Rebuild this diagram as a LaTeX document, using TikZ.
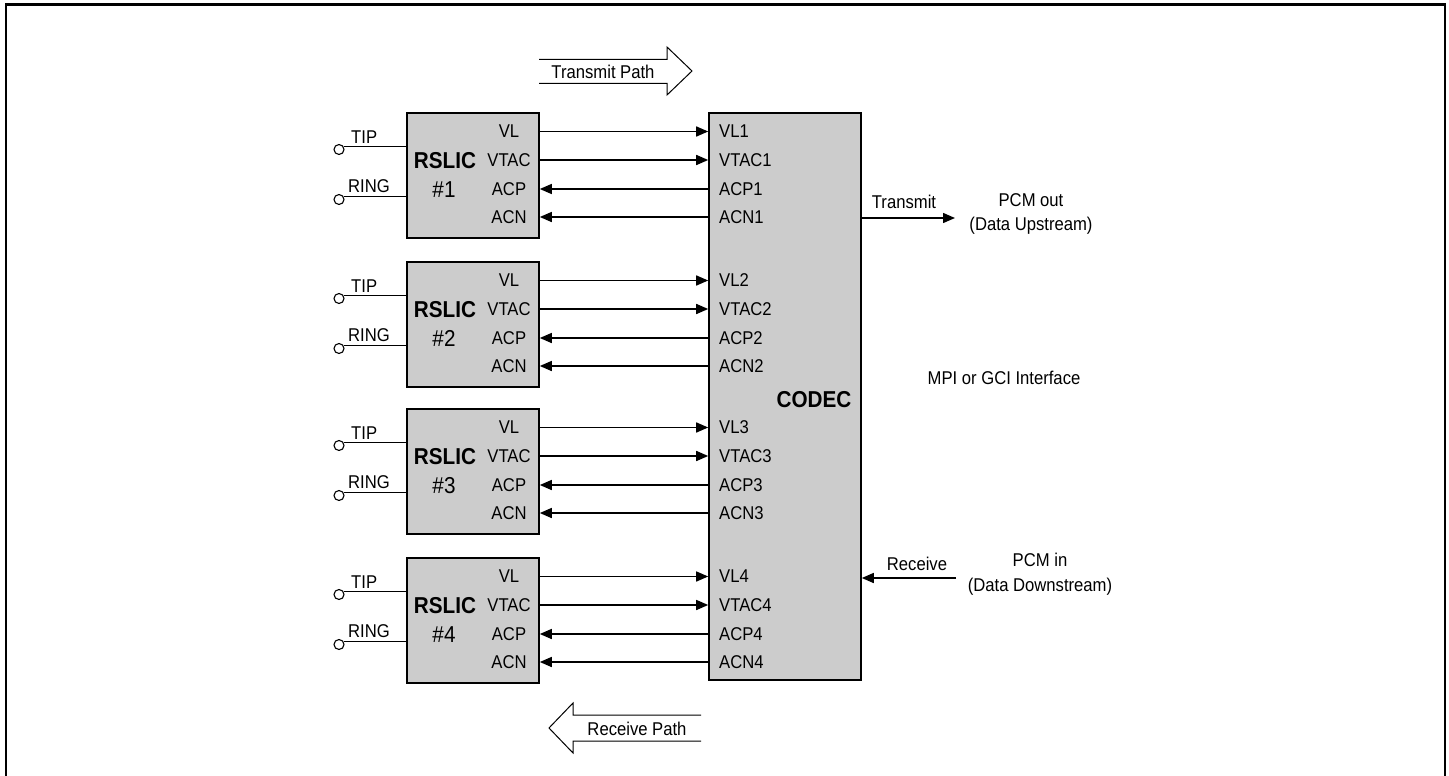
\documentclass[tikz,border=0pt]{standalone}
\usepackage{fontspec}
\setmainfont{Liberation Sans}[FakeStretch=0.9]
\usetikzlibrary{arrows.meta}
\begin{document}
\begin{tikzpicture}[x=1pt,y=-1pt,
  txt/.style={font=\fontsize{18.5}{21}\selectfont, inner sep=0pt},
  big/.style={font=\fontsize{23}{26}\selectfont, inner sep=0pt},
  chip/.style={draw, line width=1.6pt, fill=black!20, rectangle, inner sep=0pt},
  sig/.style={line width=1.5pt, -{Triangle[length=12pt,width=10pt]}},
  sigback/.style={line width=1.5pt, {Triangle[length=12pt,width=10pt]}-},
  wire/.style={line width=1.5pt},
  term/.style={draw, circle, line width=1.1pt, fill=white, inner sep=0pt, minimum size=10pt},
  blockarrow/.style={draw, line width=1pt, fill=white}
]
\useasboundingbox (0,0) rectangle (1449,776);
% frame
\draw[line width=2.5pt] (6,776) -- (6,4.5) -- (1445,4.5) -- (1445,776);

% codec
\node[chip, minimum width=152pt, minimum height=567pt] (codec) at (785,396.5) {};
\node[big] (codeclbl) at (814,400) {\bfseries CODEC};

% block arrows
\draw[blockarrow] (539,59.3) -- (667,59.3) -- (667,47) -- (692,71) -- (667,95) -- (667,83.3) -- (539,83.3);
\node[txt] (tpath) at (603,71.5) {Transmit Path};
\draw[blockarrow] (701,715) -- (573,715) -- (573,703) -- (549,728) -- (573,753) -- (573,741) -- (701,741);
\node[txt] (rpath) at (637,728.5) {Receive Path};

% RSLICs
\foreach \i/\top in {1/113, 2/262, 3/409, 4/558} {
  \node[chip, minimum width=132pt, minimum height=125pt] (r\i) at (473,\top+62.5) {};
  \node[big] (rn\i) at (445,\top+48) {\bfseries RSLIC};
  \node[big] (rh\i) at (444,\top+76.5) {\#\i};
  % pins
  \coordinate (vl\i) at (509,\top+18.5);
  \coordinate (vt\i) at (509,\top+47);
  \coordinate (ap\i) at (509,\top+76);
  \coordinate (an\i) at (509,\top+104);
  \node[txt] (lvl\i) at (vl\i) {VL};
  \node[txt] (lvt\i) at (vt\i) {VTAC};
  \node[txt] (lap\i) at (ap\i) {ACP};
  \node[txt] (lan\i) at (an\i) {ACN};
  \node[txt, anchor=west] (cvl\i) at (719,\top+18.5) {VL\i};
  \node[txt, anchor=west] (cvt\i) at (719,\top+47) {VTAC\i};
  \node[txt, anchor=west] (cap\i) at (719,\top+76) {ACP\i};
  \node[txt, anchor=west] (can\i) at (719,\top+104) {ACN\i};
  \draw[sig] (vl\i -| r\i.east) -- (vl\i -| codec.west);
  \draw[sig] (vt\i -| r\i.east) -- (vt\i -| codec.west);
  \draw[sigback] (ap\i -| r\i.east) -- (ap\i -| codec.west);
  \draw[sigback] (an\i -| r\i.east) -- (an\i -| codec.west);
  % tip / ring
  \node[term] (tip\i) at (339,\top+36.5) {};
  \node[term] (ring\i) at (339,\top+86.5) {};
  \draw[wire] (tip\i.30) -- (tip\i.30 -| r\i.west);
  \draw[wire] (ring\i.30) -- (ring\i.30 -| r\i.west);
  \node[txt, anchor=base west] (ltip\i) at (351,\top+30) {TIP};
  \node[txt, anchor=base west] (lring\i) at (348,\top+79) {RING};
}

% transmit / receive
\coordinate (pcmout) at (955,218);
\draw[sig] (pcmout -| codec.east) -- (pcmout);
\node[txt] (ltx) at (904,202) {Transmit};
\node[txt] (pcmo1) at (1031,200) {PCM out};
\node[txt] (pcmo2) at (1031,226) {(Data Upstream)};

\coordinate (pcmin) at (956,578);
\draw[sig] (pcmin) -- (pcmin -| codec.east);
\node[txt] (lrx) at (917,564) {Receive};
\node[txt] (pcmi1) at (1040,560) {PCM in};
\node[txt] (pcmi2) at (1040,587) {(Data Downstream)};

\node[txt] (mpi) at (1004,378) {MPI or GCI Interface};
\end{tikzpicture}
\end{document}
